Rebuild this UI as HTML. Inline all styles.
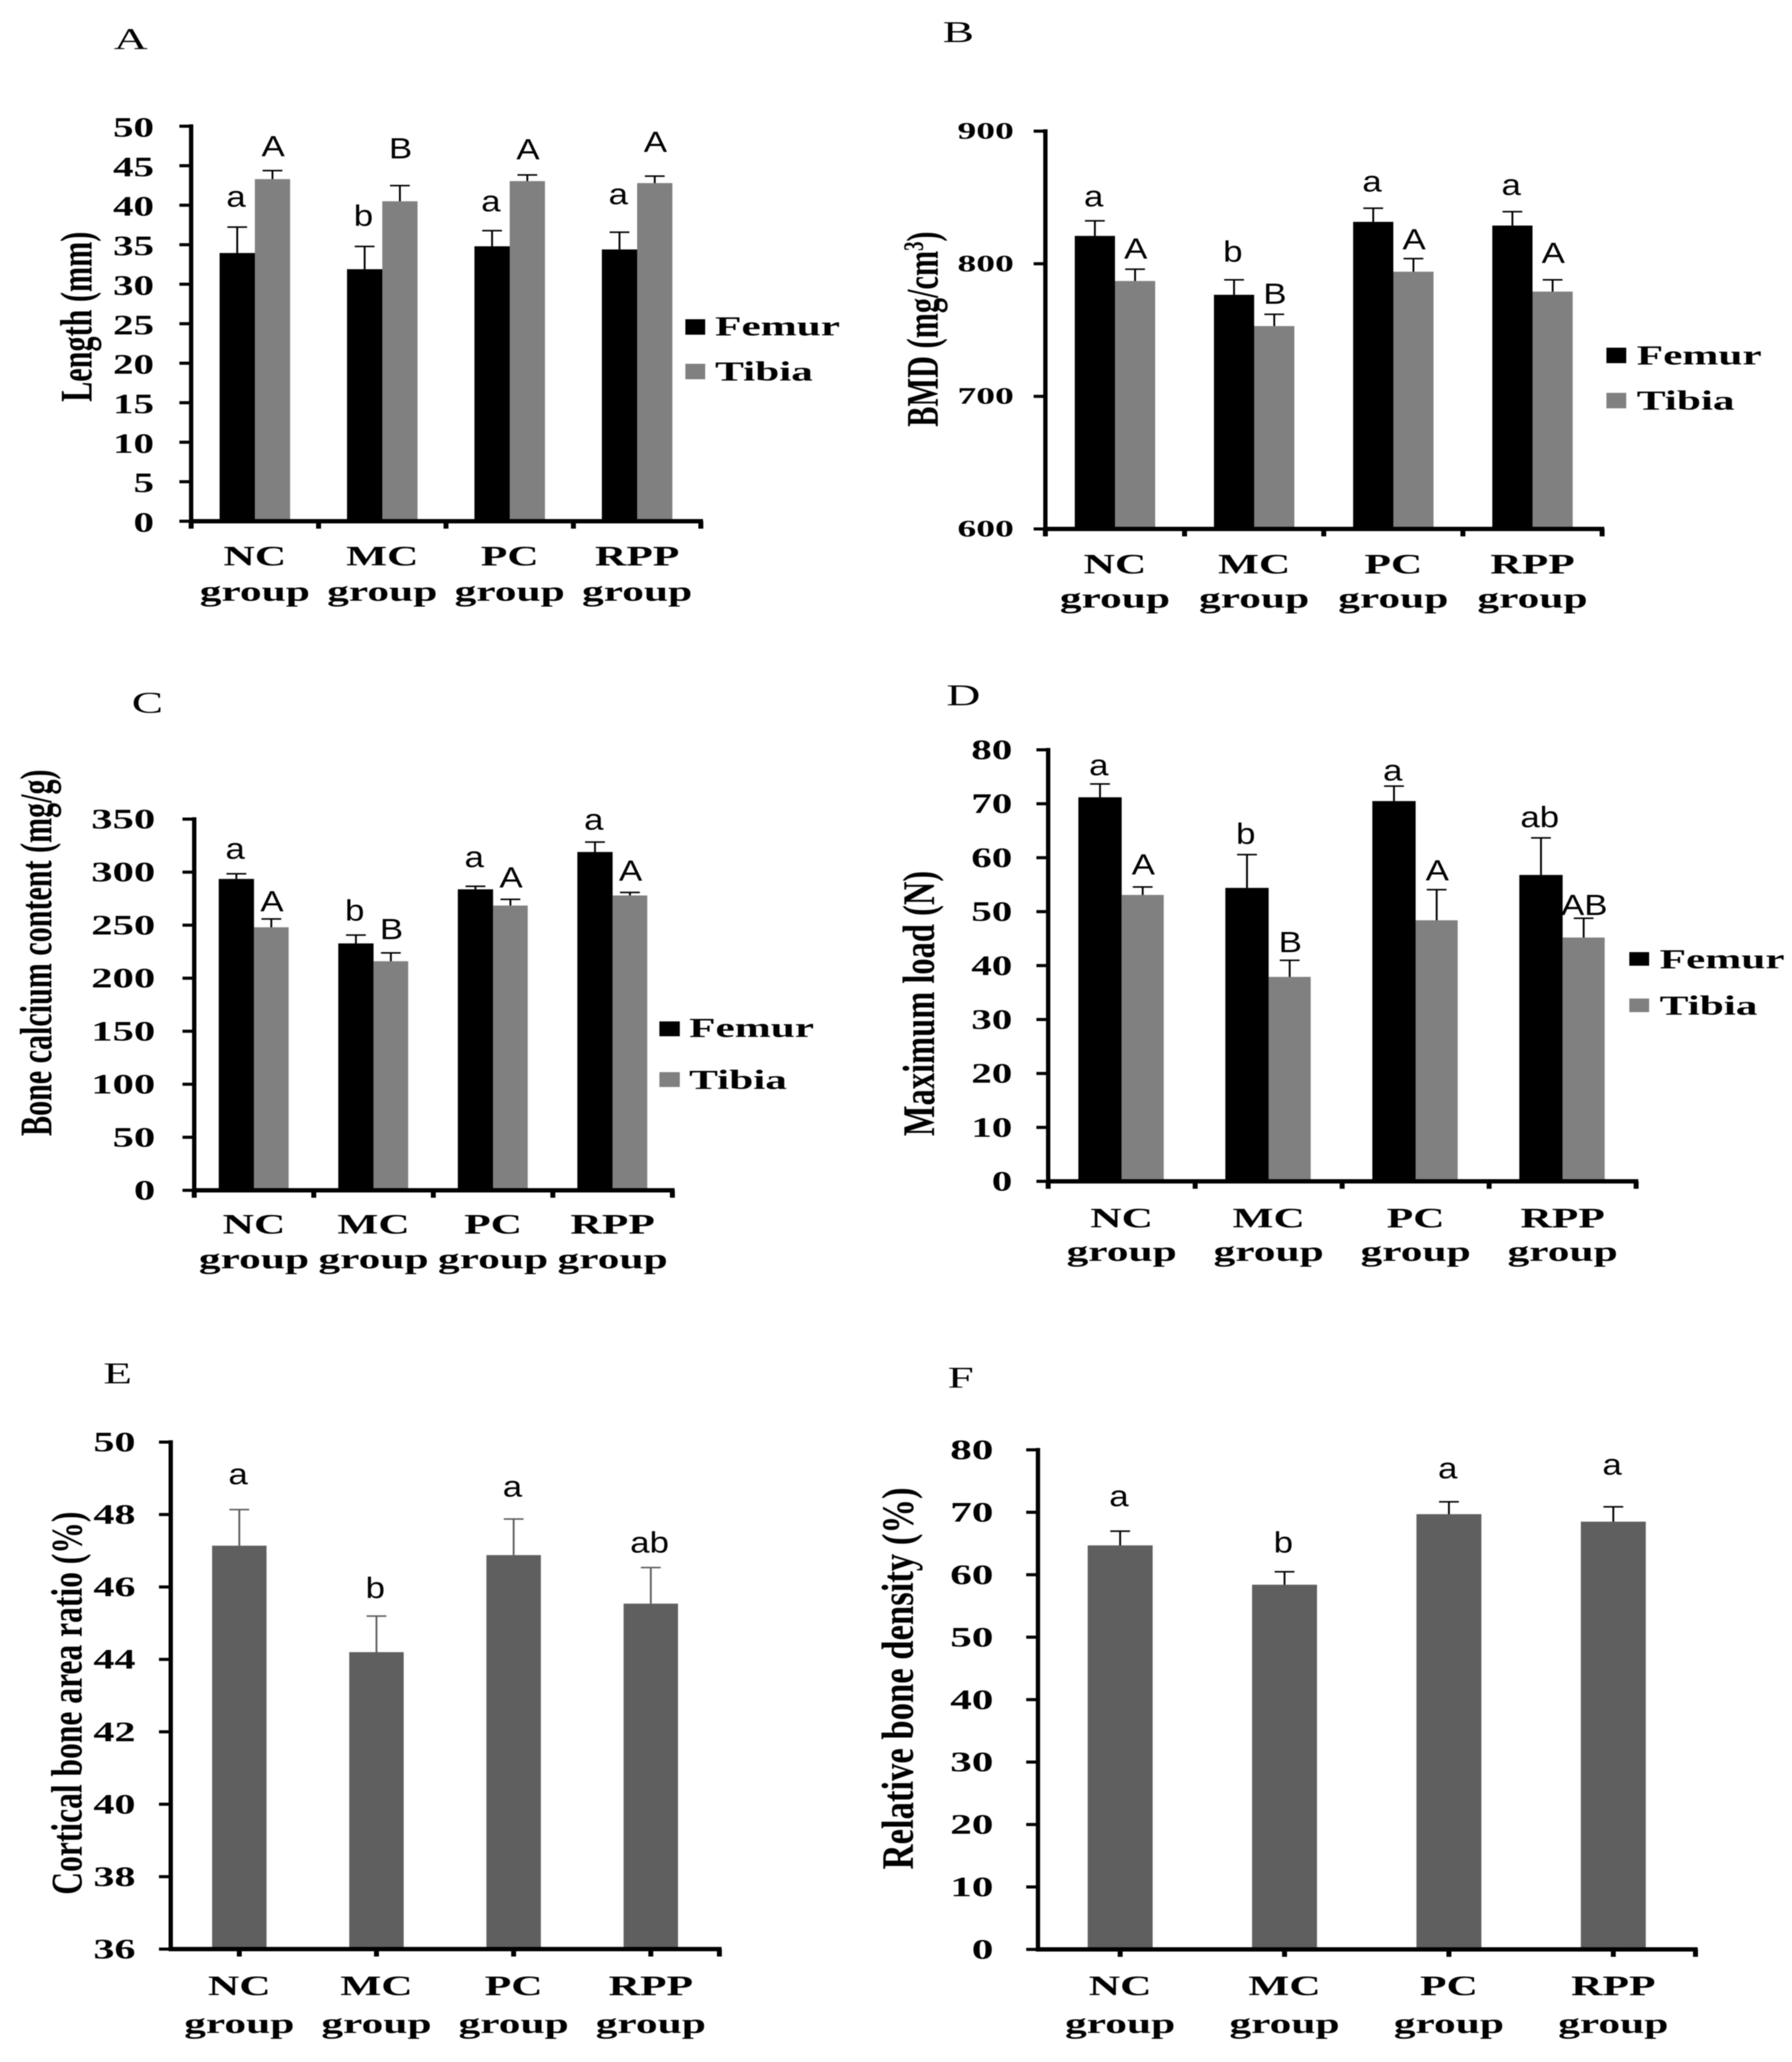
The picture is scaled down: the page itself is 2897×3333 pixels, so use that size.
<!DOCTYPE html>
<html lang="en">
<head>
<meta charset="utf-8">
<title>Bone measurements by group</title>
<style>
html,body{margin:0;padding:0;background:#fff;}
svg{display:block;filter:blur(0.8px);}
</style>
</head>
<body>
<svg id="figure" xmlns="http://www.w3.org/2000/svg" width="2897" height="3333" viewBox="0 0 2897 3333">
<rect x="0" y="0" width="2897" height="3333" fill="#fff"/>
</svg>
<script>
const categories = ['NC', 'MC', 'PC', 'RPP'];

const lengthTicks = [0, 5, 10, 15, 20, 25, 30, 35, 40, 45, 50];
const lengthFemur = [33.95, 31.9, 34.8, 34.4];
const lengthFemurErr = [3.3, 2.9, 2.0, 2.2];
const lengthFemurSig = ['a', 'b', 'a', 'a'];
const lengthTibia = [43.3, 40.5, 43.05, 42.8];
const lengthTibiaErr = [1.1, 2.0, 0.8, 0.9];
const lengthTibiaSig = ['A', 'B', 'A', 'A'];

const bmdTicks = [600, 700, 800, 900];
const bmdFemur = [821, 776.6, 831.6, 828.8];
const bmdFemurErr = [11.5, 11.4, 10.4, 10.6];
const bmdFemurSig = ['a', 'b', 'a', 'a'];
const bmdTibia = [787, 753, 794, 779];
const bmdTibiaErr = [9, 9, 10, 9];
const bmdTibiaSig = ['A', 'B', 'A', 'A'];

const calciumTicks = [0, 50, 100, 150, 200, 250, 300, 350];
const calciumFemur = [293.6, 232.8, 283.8, 319];
const calciumFemurErr = [5, 8, 3, 9.5];
const calciumFemurSig = ['a', 'b', 'a', 'a'];
const calciumTibia = [248, 216, 268.5, 278];
const calciumTibiaErr = [8, 8, 6, 3];
const calciumTibiaSig = ['A', 'B', 'A', 'A'];

const loadTicks = [0, 10, 20, 30, 40, 50, 60, 70, 80];
const loadFemur = [71.2, 54.4, 70.5, 56.8];
const loadFemurErr = [2.5, 6.2, 2.8, 6.9];
const loadFemurSig = ['a', 'b', 'a', 'ab'];
const loadTibia = [53.1, 37.9, 48.4, 45.2];
const loadTibiaErr = [1.5, 3.1, 5.7, 3.6];
const loadTibiaSig = ['A', 'B', 'A', 'AB'];

const corticalTicks = [36, 38, 40, 42, 44, 46, 48, 50];
const corticalValues = [47.14, 44.2, 46.88, 45.54];
const corticalErr = [1.0, 1.0, 1.0, 1.0];
const corticalSig = ['a', 'b', 'a', 'ab'];

const densityTicks = [0, 10, 20, 30, 40, 50, 60, 70, 80];
const densityValues = [64.7, 58.4, 69.7, 68.5];
const densityErr = [2.3, 2.1, 2.0, 2.4];
const densitySig = ['a', 'b', 'a', 'a'];

const NS = 'http://www.w3.org/2000/svg';
const SERIF = '"Liberation Serif", serif';
const SANS = '"Liberation Sans", sans-serif';
const root = document.getElementById('figure');

function mk(parent, tag, name, attrs) {
  const el = document.createElementNS(NS, tag);
  
  
  for (const k in attrs) el.setAttribute(k, attrs[k]);
  parent.appendChild(el);
  return el;
}
function rect(parent, name, x, y, w, h, fill) {
  return mk(parent, 'rect', name, {x: x, y: y, width: w, height: h, fill: fill});
}
function label(parent, name, str, x, y, o) {
  const t = 'translate(' + x + ' ' + y + ') scale(' + (o.sx || 1.5) + ' 1)' + (o.rotate ? ' rotate(-90)' : '');
  const el = mk(parent, 'text', name, {
    x: 0, y: 0, transform: t,
    'font-family': o.family || SERIF,
    'font-weight': o.weight || 'bold',
    'font-size': o.size || 44,
    'text-anchor': o.anchor || 'middle',
    fill: '#000'
  });
  el.textContent = str;
  return el;
}

function drawPanel(p) {
  const g = mk(root, 'g', 'panel-' + p.letter.toLowerCase(), {});
  const yScale = v => p.yBottom - (v - p.domain[0]) / (p.domain[1] - p.domain[0]) * (p.yBottom - p.yTop);
  const band = (p.x1 - p.x0) / categories.length;
  const xScale = i => p.x0 + (i + 0.5) * band;

  label(g, 'panel-letter', p.letter, p.letterX, p.letterY, {size: 49, sx: 1.55, weight: 'normal', anchor: 'start'});

  // bars, error bars, significance letters
  categories.forEach((cat, i) => {
    const c = xScale(i);
    let left = c - p.series.reduce((s, q) => s + q.width, 0) / 2;
    if (p.series.length === 2) left = c - p.series[0].width;
    p.series.forEach(s => {
      const top = yScale(s.values[i]);
      const capY = yScale(s.values[i] + s.errors[i]);
      const mid = left + s.width / 2;
      rect(g, 'bar-' + cat.toLowerCase() + '-' + s.key, left, top, s.width, p.yBottom - top, s.color);
      rect(g, 'error-stem-' + cat.toLowerCase() + '-' + s.key, mid - 1.5, capY, 3, top - capY, s.errColor);
      rect(g, 'error-cap-' + cat.toLowerCase() + '-' + s.key, mid - 16, capY - 1, 32, 2.5, s.errColor);
      label(g, 'significance-' + cat.toLowerCase() + '-' + s.key, s.sig[i], mid + (s.sigDx || 0) - 2, capY - s.gaps[i],
        {family: SANS, weight: 'normal', size: 47, sx: 1.2});
      left += s.width;
    });
  });

  // axes
  rect(g, 'y-axis-line', p.x0 - 3.5, p.yTop - 3, 7, p.yBottom - p.yTop + 6, '#000');
  rect(g, 'x-axis-line', p.x0 - 3.5, p.yBottom - 3.5, p.x1 - p.x0 + 7, 7, '#000');

  p.ticks.forEach(v => {
    const y = yScale(v);
    rect(g, 'y-tick-' + v, p.x0 - 19, y - 2.5, 19, 5, '#000');
    label(g, 'y-tick-label-' + v, String(v), p.x0 - p.tickGap, y + p.tickDy,
      {size: p.tickSize, sx: p.tickSx, anchor: 'end'});
  });

  const xTicks = p.centerTicks
    ? categories.map((_, i) => xScale(i)).concat([p.x1])
    : categories.map((_, i) => p.x0 + i * band).concat([p.x1]);
  xTicks.forEach((x, i) => {
    rect(g, 'x-tick-' + i, x - 4, p.yBottom, 8, 12, '#000');
  });

  categories.forEach((cat, i) => {
    const c = xScale(i) + (p.catDx || 0);
    label(g, 'x-label-' + cat.toLowerCase(), cat, c, p.catY1, {size: 45, sx: 1.56});
    label(g, 'x-label-group-' + cat.toLowerCase(), 'group', c, p.catY2, {size: 45, sx: 1.56});
  });

  // axis title
  const title = label(g, 'y-axis-title', p.title, p.titleX, p.titleY,
    {size: p.titleSize, sx: p.titleSx || 1.5, rotate: true});
  if (p.titleSup) {
    title.textContent = '';
    const a = mk(title, 'tspan', 'y-axis-title-text', {});
    a.textContent = p.title;
    const b = mk(title, 'tspan', 'y-axis-title-superscript', {dy: -16, 'font-size': 30});
    b.textContent = p.titleSup;
    const c = mk(title, 'tspan', 'y-axis-title-close', {dy: 16});
    c.textContent = ')';
  }

  // legend
  if (p.legend) {
    p.series.forEach((s, i) => {
      const l = p.legend;
      rect(g, 'legend-swatch-' + s.key, l.x, l.y[i], l.w, l.h, s.color);
      label(g, 'legend-label-' + s.key, s.name, l.textX - 2, l.base[i], {size: 44, sx: 1.59, anchor: 'start'});
    });
  }
}

function pair(femur, femurErr, femurSig, femurGaps, tibia, tibiaErr, tibiaSig, tibiaGaps, w1, w2) {
  return [
    {key: 'femur', name: 'Femur', values: femur, errors: femurErr, sig: femurSig, gaps: femurGaps, color: '#000', errColor: '#000', width: w1},
    {key: 'tibia', name: 'Tibia', values: tibia, errors: tibiaErr, sig: tibiaSig, gaps: tibiaGaps, color: '#808080', errColor: '#000', width: w2, sigDx: 3}
  ];
}

drawPanel({
  letter: 'A', letterX: 184, letterY: 79,
  x0: 309, x1: 1133, yTop: 204, yBottom: 842.5, domain: [0, 50],
  ticks: lengthTicks, tickGap: 60, tickDy: 17, tickSize: 46, tickSx: 1.44,
  catY1: 914, catY2: 971,
  title: 'Length (mm)', titleX: 148, titleY: 512, titleSize: 48.8,
  series: pair(lengthFemur, lengthFemurErr, lengthFemurSig, [33, 33, 31, 45],
               lengthTibia, lengthTibiaErr, lengthTibiaSig, [23, 44, 25, 39], 57, 57),
  legend: {x: 1108, y: [516, 588], w: 32, h: 25, textX: 1158, base: [542, 615]}
});

drawPanel({
  letter: 'B', letterX: 1524, letterY: 68,
  x0: 1690, x1: 2590, yTop: 212, yBottom: 855, domain: [600, 900],
  ticks: bmdTicks, tickGap: 51, tickDy: 12, tickSize: 38, tickSx: 1.6,
  catY1: 927, catY2: 982,
  title: 'BMD (mg/cm', titleSup: '3', titleX: 1516, titleY: 532, titleSize: 49,
  series: pair(bmdFemur, bmdFemurErr, bmdFemurSig, [23, 29, 27, 27],
               bmdTibia, bmdTibiaErr, bmdTibiaSig, [17, 17, 15, 27], 65, 65),
  legend: {x: 2597, y: [562, 635], w: 32, h: 25, textX: 2648, base: [589, 662]}
});

drawPanel({
  letter: 'C', letterX: 213, letterY: 1152,
  x0: 314, x1: 1087, yTop: 1324, yBottom: 1924, domain: [0, 350],
  ticks: calciumTicks, tickGap: 63, tickDy: 15, tickSize: 46, tickSx: 1.5,
  catY1: 1994, catY2: 2050,
  title: 'Bone calcium content (mg/g)', titleX: 83, titleY: 1540, titleSize: 48.6,
  series: pair(calciumFemur, calciumFemurErr, calciumFemurSig, [24, 23, 31, 20],
               calciumTibia, calciumTibiaErr, calciumTibiaSig, [12, 22, 19, 19], 57, 56),
  legend: {x: 1066, y: [1651, 1733], w: 33, h: 24, textX: 1116, base: [1676, 1760]}
});

drawPanel({
  letter: 'D', letterX: 1530, letterY: 1140,
  x0: 1694.5, x1: 2645, yTop: 1212, yBottom: 1909.5, domain: [0, 80],
  ticks: loadTicks, tickGap: 58, tickDy: 15, tickSize: 46, tickSx: 1.44,
  catY1: 1984, catY2: 2038,
  title: 'Maximum load (N)', titleX: 1510, titleY: 1622, titleSize: 52.5, titleSx: 1.4,
  series: pair(loadFemur, loadFemurErr, loadFemurSig, [14, 17, 9, 17],
               loadTibia, loadTibiaErr, loadTibiaSig, [20, 13, 15, 5], 70, 68),
  legend: {x: 2634, y: [1539, 1614], w: 32, h: 22, textX: 2685, base: [1565, 1640]}
});

drawPanel({
  letter: 'E', letterX: 167, letterY: 2236,
  x0: 276, x1: 1163, yTop: 2331, yBottom: 3150.5, domain: [36, 50],
  ticks: corticalTicks, tickGap: 57, tickDy: 15, tickSize: 46, tickSx: 1.48,
  catY1: 3225, catY2: 3286, centerTicks: true,
  title: 'Cortical bone area ratio (%)', titleX: 132, titleY: 2753, titleSize: 51, titleSx: 1.4,
  series: [{key: 'ratio', name: 'Ratio', values: corticalValues, errors: corticalErr, sig: corticalSig, gaps: [41, 29, 36, 24], color: '#5f5f5f', errColor: '#5f5f5f', width: 88}]
});

drawPanel({
  letter: 'F', letterX: 1532, letterY: 2243,
  x0: 1678, x1: 2741, yTop: 2343.5, yBottom: 3151, domain: [0, 80],
  ticks: densityTicks, tickGap: 72, tickDy: 15, tickSize: 46, tickSx: 1.52,
  catY1: 3225, catY2: 3286, centerTicks: true,
  title: 'Relative bone density (%)', titleX: 1476, titleY: 2713, titleSize: 56, titleSx: 1.3,
  series: [{key: 'density', name: 'Density', values: densityValues, errors: densityErr, sig: densitySig, gaps: [40, 31, 38, 52], color: '#5f5f5f', errColor: '#000', width: 105}]
});
</script>
</body>
</html>
